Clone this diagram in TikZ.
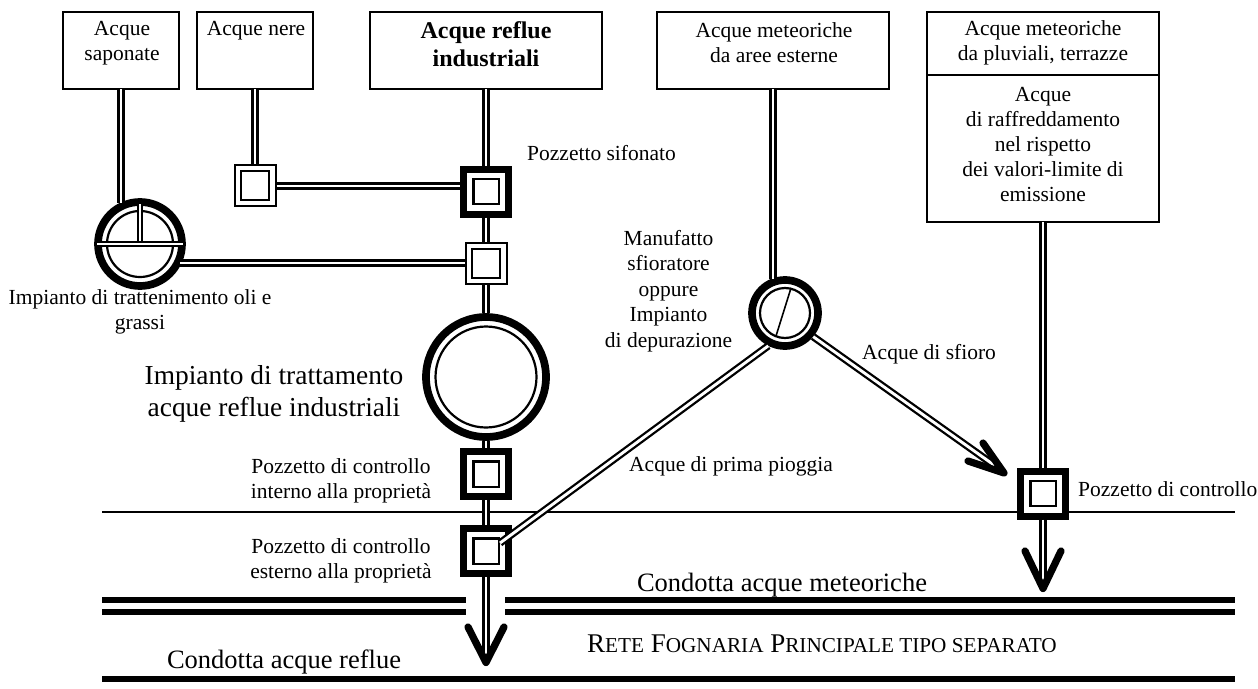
\documentclass[tikz,border=0pt]{standalone}
\usepackage{fontspec}
\usetikzlibrary{calc}
\setmainfont{Liberation Serif}
\newcommand{\fsn}{\fontsize{21.5}{25}\selectfont}
\newcommand{\fsl}{\fontsize{26.5}{32}\selectfont}
\newcommand{\fss}{\fontsize{21.2}{25}\selectfont}
\newcommand{\fsc}{\fontsize{27}{30}\selectfont}
\tikzset{
  srcbox/.style={draw,line width=1.7pt,fill=white,inner sep=0pt,outer sep=0pt},
  pipe/.style={draw,double,line width=2.3pt,double distance=2.9pt},
  tip/.style={draw,line width=7.2pt,line cap=round,line join=round},
  main/.style={draw,line width=6pt},
  lbl/.style={inner sep=0pt,align=center,font=\fsn},
  biglbl/.style={inner sep=0pt,align=center,font=\fsl},
  thinsq/.style={draw,line width=2pt,fill=white,inner sep=0pt,minimum size=41pt,
    path picture={\draw[line width=2.2pt] ([xshift=-14.2pt,yshift=-14.2pt]path picture bounding box.center) rectangle ([xshift=14.2pt,yshift=14.2pt]path picture bounding box.center);}},
  thicksq/.style={draw,line width=7pt,fill=white,inner sep=0pt,minimum size=45pt,
    path picture={\draw[line width=2.2pt] ([xshift=-12.6pt,yshift=-12.6pt]path picture bounding box.center) rectangle ([xshift=12.6pt,yshift=12.6pt]path picture bounding box.center);}},
  ring/.style 2 args={circle,draw,line width=7.7pt,fill=white,inner sep=0pt,minimum size=#1,
    path picture={\draw[line width=2.2pt] (path picture bounding box.center) circle (#2);}}
}
\begin{document}
\begin{tikzpicture}[x=1pt,y=-1pt]
\useasboundingbox (0,0) rectangle (1258,688);
% source boxes
\node[srcbox,minimum width=116pt,minimum height=77pt] (bsap) at (121,50.5) {};
\node[srcbox,minimum width=116pt,minimum height=77pt] (bner) at (255,50.5) {};
\node[srcbox,minimum width=232pt,minimum height=77pt] (bref) at (486,50.5) {};
\node[srcbox,minimum width=232pt,minimum height=77pt] (bmet) at (773,50.5) {};
\node[srcbox,minimum width=232pt,minimum height=210pt] (bplu) at (1043,117) {};
\draw[line width=1.9pt] (bplu.west |- 0,75) -- (bplu.east |- 0,75);
% box texts
\node[lbl] (tsap) at (122,43) {Acque\\saponate};
\node[lbl] (tner) at (256,30.5) {Acque nere};
\node[inner sep=0pt,align=center,font=\fontsize{24}{28}\selectfont\bfseries] (tref) at (486,44) {Acque reflue\\industriali};
\node[lbl] (tmet) at (774,43) {Acque meteoriche\\da aree esterne};
\node[lbl] (tplu) at (1043,43) {Acque meteoriche\\da pluviali, terrazze};
\node[lbl] (traf) at (1043,145) {Acque\\di raffreddamento\\nel rispetto\\dei valori-limite di\\emissione};
% devices
\node[thinsq] (pner) at (255,185.5) {};
\node[thicksq] (psif) at (486,191.5) {};
\node[thinsq] (pmid) at (486,263.5) {};
\node[ring={84pt}{33pt}] (oil) at (140,244) {};
\node[ring={120pt}{50.5pt}] (imp) at (486,377) {};
\node[thicksq] (pint) at (486,474) {};
\node[thicksq] (pest) at (486,551) {};
\node[ring={66pt}{25pt}] (man) at (785,313) {};
\node[thicksq] (pctr) at (1043,493.5) {};
% device interiors
\coordinate (oa) at ($(oil.180)+(3,0)$);
\coordinate (ob) at ($(oil.0)+(-3,0)$);
\coordinate (oc) at (oil.center);
\coordinate (od) at ($(oil.north)+(0,6)$);
\draw[double,line width=1.5pt,double distance=2.4pt] (oa) -- (ob);
\draw[double,line width=1.5pt,double distance=2.4pt] (od) -- ($(oc)+(0,-3)$);
\coordinate (ma) at (791,288);
\coordinate (mb) at (776,336);
\draw[line width=1.6pt] (ma) -- (mb);
% ground line and mains
\coordinate (gl) at (102,512); \coordinate (gr) at (1235,512);
\draw[line width=1.5pt] (gl) -- (pctr.west |- gl);
\draw[line width=1.5pt] (pctr.east |- gl) -- (gr);
\coordinate (m1a) at (102,600); \coordinate (m1b) at (466,600);
\coordinate (m1c) at (505,600); \coordinate (m1d) at (1235,600);
\coordinate (m2a) at (102,612); \coordinate (m2b) at (466,612);
\coordinate (m2c) at (505,612); \coordinate (m2d) at (1235,612);
\coordinate (m3a) at (102,679); \coordinate (m3b) at (1235,679);
\draw[main] (m1a) -- (m1b); \draw[main] (m1c) -- (m1d);
\draw[main] (m2a) -- (m2b); \draw[main] (m2c) -- (m2d);
\draw[main] (m3a) -- (m3b);
% pipes
\draw[pipe] (bsap.south) -- (bsap.south |- oil.117);
\draw[pipe] (bner.south) -- (pner.north);
\draw[pipe] (bref.south) -- (psif.north);
\draw[pipe] (bmet.south) -- (bmet.south |- man.112);
\draw[pipe] (bplu.south) -- (pctr.north);
\draw[pipe] (pner.east |- 0,186) -- (psif.west |- 0,186);
\draw[pipe] (psif.south) -- (pmid.north);
\draw[pipe] (oil.-28 |- 0,263) -- (pmid.west |- 0,263);
\draw[pipe] (pmid.south) -- (imp.north);
\draw[pipe] (imp.south) -- (pint.north);
\draw[pipe] (pint.south) -- (pest.north);
\coordinate (tipa) at (486,660);
\draw[pipe] (pest.south) -- (tipa);
\coordinate (aa) at (468,627); \coordinate (ab) at (504,627);
\draw[tip] (aa) -- (486,662.5) -- (ab);
% diagonals
\coordinate (de) at (500,543);
\draw[pipe] (man.243) -- (de);
\coordinate (sf) at (1001,470);
\draw[pipe] (man.-40) -- (sf);
\coordinate (sa) at (983,443); \coordinate (sb) at (968,461);
\draw[tip] (sa) -- (1004,473) -- (sb);
\coordinate (ctip) at (1043,586);
\draw[pipe] (pctr.south) -- (ctip);
\coordinate (ca) at (1025,551); \coordinate (cb) at (1061,551);
\draw[tip] (ca) -- (1043,588.5) -- (cb);
% labels
\node[lbl,anchor=west] (l1) at (527,153) {Pozzetto sifonato};
\node[lbl] (l2) at (140,312) {Impianto di trattenimento oli e\\grassi};
\node[inner sep=0pt,align=center,font=\fontsize{27.4}{32}\selectfont] (l3) at (274,393.5) {Impianto di trattamento\\acque reflue industriali};
\node[lbl] (l4) at (341,480.5) {Pozzetto di controllo\\interno alla proprietà};
\node[lbl] (l5) at (341,560.5) {Pozzetto di controllo\\esterno alla proprietà};
\node[inner sep=0pt,align=center,font=\fontsize{21.5}{25.6}\selectfont] (l6) at (668.5,291) {Manufatto\\sfioratore\\oppure\\Impianto\\di depurazione};
\node[lbl,anchor=west] (l7) at (862,354) {Acque di sfioro};
\node[lbl] (l8) at (731,466) {Acque di prima pioggia};
\node[lbl,anchor=west] (l9) at (1078,489) {Pozzetto di controllo};
\node[biglbl] (l10) at (782,585) {Condotta acque meteoriche};
\node[biglbl] (l11) at (284,662) {Condotta acque reflue};
\node[inner sep=0pt,font=\fsc,anchor=base west] (l12) at (587,652) {R{\fss ETE} F{\fss OGNARIA} P{\fss RINCIPALE TIPO SEPARATO}};
\end{tikzpicture}
\end{document}
